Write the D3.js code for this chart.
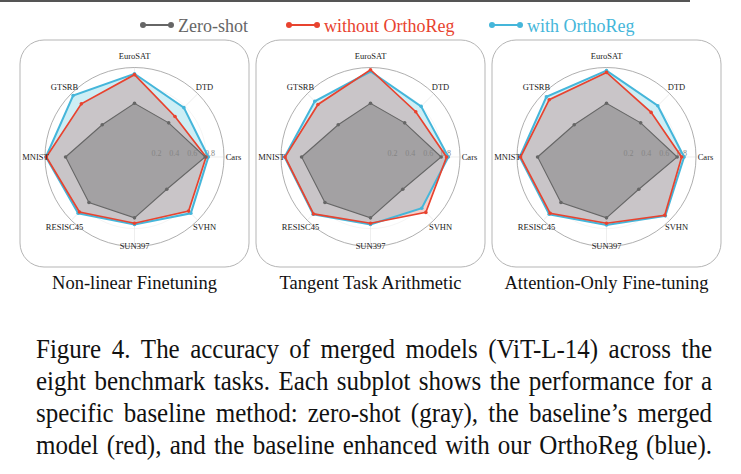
<!DOCTYPE html>
<html>
<head>
<meta charset="utf-8">
<script src="https://cdn.jsdelivr.net/npm/d3@7"></script>
<style>
  body { margin: 0; background: #fff; }
  svg { display: block; font-family: "Liberation Serif", "Times New Roman", serif; }
</style>
</head>
<body>
<div id="chart"></div>
<script>
// axes in angular order, starting at 3 o'clock and going counter-clockwise
const categories = ["Cars", "DTD", "EuroSAT", "GTSRB", "MNIST", "RESISC45", "SUN397", "SVHN"];
const radialTicks = [0.2, 0.4, 0.6, 0.8];

const panelTitles = ["Non-linear Finetuning", "Tangent Task Arithmetic", "Attention-Only Fine-tuning"];
const seriesNames = ["Zero-shot", "without OrthoReg", "with OrthoReg"];

const zeroShot = [0.79, 0.54, 0.60, 0.51, 0.77, 0.72, 0.68, 0.51];

// without OrthoReg (red), one list per panel
const baselineNonlinear = [0.80, 0.64, 0.92, 0.84, 0.985, 0.87, 0.74, 0.855];
const baselineTangent = [0.85, 0.715, 0.975, 0.83, 0.955, 0.90, 0.74, 0.875];
const baselineAttn = [0.84, 0.705, 0.945, 0.905, 0.96, 0.89, 0.74, 0.92];

// with OrthoReg (blue)
const orthoNonlinear = [0.825, 0.78, 0.93, 0.97, 0.99, 0.89, 0.755, 0.89];
const orthoTangent = [0.87, 0.80, 0.955, 0.88, 0.96, 0.905, 0.755, 0.81];
const orthoAttn = [0.867, 0.81, 0.965, 0.95, 0.97, 0.905, 0.76, 0.93];

const captionLines = [
  "Figure 4.  The accuracy of merged models (ViT-L-14) across the",
  "eight benchmark tasks. Each subplot shows the performance for a",
  "specific baseline method:  zero-shot (gray), the baseline\u2019s merged",
  "model (red), and the baseline enhanced with our OrthoReg (blue)."
];

const panels = [
  { title: panelTitles[0], red: baselineNonlinear, blue: orthoNonlinear },
  { title: panelTitles[1], red: baselineTangent, blue: orthoTangent },
  { title: panelTitles[2], red: baselineAttn, blue: orthoAttn }
];

const colors = { gray: "#666666", red: "#e8432f", blue: "#45b6da" };
// area tints: blue only, red only, red+blue overlap, zero-shot
const fills = { blue: "#cdeef5", red: "#f5cfca", both: "#c9c5c8", gray: "#a3a1a3" };

const width = 741, height = 474;
const svg = d3.select("#chart").append("svg")
  .attr("width", width).attr("height", height);
const defs = svg.append("defs");

// rule at the top of the page
svg.append("line")
  .attr("x1", 0).attr("x2", 690).attr("y1", 1).attr("y2", 1)
  .attr("stroke", "#555").attr("stroke-width", 2);

// legend
const legendItems = [
  { name: seriesNames[0], color: colors.gray, x: 143 },
  { name: seriesNames[1], color: colors.red, x: 289 },
  { name: seriesNames[2], color: colors.blue, x: 492 }
];
const legend = svg.append("g").attr("transform", "translate(0,25)");
legendItems.forEach((d) => {
  const g = legend.append("g").attr("transform", `translate(${d.x},0)`);
  g.append("line").attr("x1", 0).attr("x2", 28).attr("stroke", d.color).attr("stroke-width", 2);
  g.selectAll("circle").data([0, 28]).join("circle")
    .attr("cx", (v) => v).attr("r", 3).attr("fill", d.color);
  g.append("text").attr("x", 35).attr("y", 6.5)
    .attr("font-size", 18).attr("fill", d.color).text(d.name);
});

const R = 89.5;
const r = d3.scaleLinear().domain([0, 1]).range([0, R]);
const step = (2 * Math.PI) / categories.length;
// d3 radial angle: 0 at 12 o'clock, clockwise
const toD3Angle = (i) => Math.PI / 2 - i * step;

const radial = d3.lineRadial()
  .angle((d, i) => toD3Angle(i))
  .radius((d) => r(d))
  .curve(d3.curveLinearClosed);

panels.forEach((p, k) => {
  const bx = 20 + k * 236, by = 40, bw = 229, bh = 227;
  const cx = bx + bw / 2, cy = 157;

  svg.append("rect")
    .attr("x", bx).attr("y", by).attr("width", bw).attr("height", bh)
    .attr("rx", 24).attr("ry", 24)
    .attr("fill", "none").attr("stroke", "#b5b5b5").attr("stroke-width", 1);

  const g = svg.append("g").attr("transform", `translate(${cx},${cy})`);

  // grid
  g.selectAll("circle.ring").data(radialTicks).join("circle").attr("class", "ring")
    .attr("r", (d) => r(d)).attr("fill", "none").attr("stroke", "#eeeeee").attr("stroke-width", 0.6);
  g.selectAll("line.spoke").data(categories).join("line").attr("class", "spoke")
    .attr("x2", (d, i) => R * Math.cos(i * step))
    .attr("y2", (d, i) => -R * Math.sin(i * step))
    .attr("stroke", "#e6e6e6").attr("stroke-width", 0.7);

  // filled areas: blue, red, the part of red inside blue, then zero-shot
  const clipId = `blueclip${k}`;
  defs.append("clipPath").attr("id", clipId)
    .append("path").attr("d", radial(p.blue));

  g.append("path").attr("d", radial(p.blue)).attr("fill", fills.blue);
  g.append("path").attr("d", radial(p.red)).attr("fill", fills.red);
  g.append("path").attr("d", radial(p.red)).attr("fill", fills.both)
    .attr("clip-path", `url(#${clipId})`);
  g.append("path").attr("d", radial(zeroShot)).attr("fill", fills.gray);

  // outer circle
  g.append("circle").attr("r", r(1)).attr("fill", "none")
    .attr("stroke", "#9a9a9a").attr("stroke-width", 0.8);

  // radial tick labels along the Cars axis
  g.selectAll("text.rtick").data(radialTicks).join("text").attr("class", "rtick")
    .attr("x", (d) => r(d) - 1).attr("y", -1.5)
    .attr("font-size", 8).attr("fill", "#858585")
    .text((d) => d.toFixed(1));

  // outlines and markers
  const lines = [
    { vals: p.blue, color: colors.blue, w: 2 },
    { vals: p.red, color: colors.red, w: 1.7 },
    { vals: zeroShot, color: colors.gray, w: 1.1 }
  ];
  lines.forEach((s) => {
    g.append("path").attr("d", radial(s.vals))
      .attr("fill", "none").attr("stroke", s.color).attr("stroke-width", s.w)
      .attr("stroke-linejoin", "miter");
    g.append("g").selectAll("circle").data(s.vals).join("circle")
      .attr("cx", (d, i) => r(d) * Math.cos(i * step))
      .attr("cy", (d, i) => -r(d) * Math.sin(i * step))
      .attr("r", 1.8).attr("fill", s.color);
  });

  // category labels
  g.selectAll("text.cat").data(categories).join("text").attr("class", "cat")
    .attr("x", (d, i) => 99 * Math.cos(i * step))
    .attr("y", (d, i) => {
      const s = Math.sin(i * step);
      const rr = s > 0.9 ? 101 : s < -0.9 ? 89 : 99;
      return -rr * s + 3;
    })
    .attr("text-anchor", "middle")
    .attr("font-size", 8.5).attr("fill", "#222")
    .text((d) => d);

  svg.append("text")
    .attr("x", cx).attr("y", 289)
    .attr("text-anchor", "middle").attr("font-size", 18.5).attr("fill", "#111")
    .text(p.title);
});

// justified caption: place words one by one, glyphs slightly taller than wide
const capX0 = 36, capX1 = 712, capFont = 25;
captionLines.forEach((line, li) => {
  const y = 358 + li * 32;
  const words = line.split(/ +/);
  const g = svg.append("g")
    .attr("transform", `translate(0,${y}) scale(1,1.08)`);
  const nodes = words.map((w) =>
    g.append("text").attr("y", 0).attr("font-size", capFont).attr("fill", "#111").text(w)
  );
  const widths = nodes.map((n) => n.node().getComputedTextLength());
  const total = d3.sum(widths);
  const gap = (capX1 - capX0 - total) / (words.length - 1);
  let x = capX0;
  nodes.forEach((n, i) => {
    n.attr("x", x);
    x += widths[i] + gap;
  });
});
</script>
</body>
</html>
